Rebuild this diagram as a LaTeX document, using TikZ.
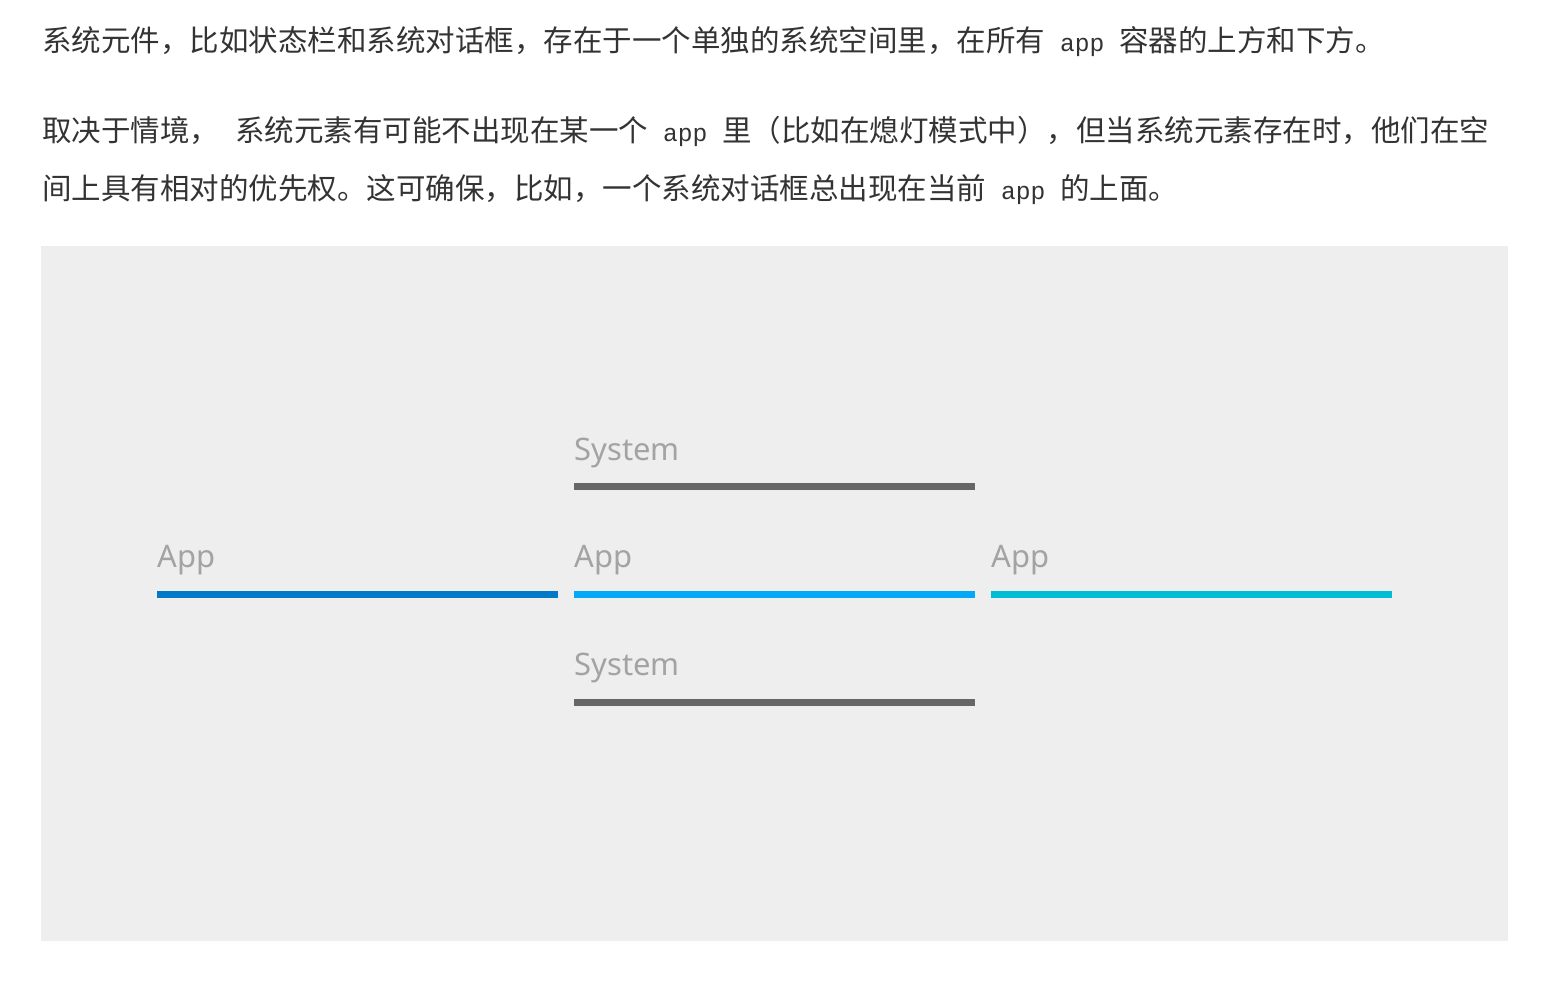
\documentclass[tikz,border=0pt]{standalone}
\usepackage{fontspec}
\newfontfamily\cjk{Noto Sans CJK SC}
\newfontfamily\tagfont{Noto Sans}
\newfontfamily\appfont{Liberation Mono}
\definecolor{textgray}{HTML}{333333}
\definecolor{taggray}{HTML}{A3A3A3}
\definecolor{panelgray}{HTML}{EEEEEE}
\definecolor{sysgray}{HTML}{666666}
\definecolor{appdark}{HTML}{0279C6}
\definecolor{appblue}{HTML}{03A9F4}
\definecolor{appcyan}{HTML}{00BCD4}
\newcommand{\appword}{{\appfont\fontsize{12.3pt}{15pt}\selectfont\ app\ }}

\begin{document}
\begin{tikzpicture}[x=0.5pt, y=-0.5pt,
	para/.style={anchor=base west, inner sep=0pt, text=textgray, font=\cjk\fontsize{14.75pt}{18pt}\selectfont},
	tag/.style={anchor=base west, inner sep=0pt, text=taggray, font=\tagfont\fontsize{15.5pt}{18pt}\selectfont},
	bar/.style={line width=3.5pt}]
	\useasboundingbox (0,0) rectangle (1548,986);
	
	% 1. 正文三行
	\node[para] (line1) at (42,51) {系统元件，比如状态栏和系统对话框，存在于一个单独的系统空间里，在所有\appword 容器的上方和下方。};
	\node[para] (line2) at (42,141) {取决于情境，\hspace{8pt}系统元素有可能不出现在某一个\appword 里（比如在熄灯模式中），但当系统元素存在时，他们在空};
	\node[para] (line3) at (42,199) {间上具有相对的优先权。这可确保，比如，一个系统对话框总出现在当前\appword 的上面。};
	
	% 2. 灰色面板
	\fill[panelgray] (41,246) rectangle (1508,941);
	
	% 3. 上下两层 System
	\node[tag] (sysTop) at (574,460) {System};
	\draw[bar, sysgray] (574,486) -- ++(401,0);
	\node[tag] (sysBot) at (574,675) {System};
	\draw[bar, sysgray] (574,702) -- ++(401,0);
	
	% 4. 中间三个 App
	\foreach \n/\x/\c in {appA/157/appdark, appB/574/appblue, appC/991/appcyan} {
		\node[tag] (\n) at (\x,567) {App};
		\draw[bar, \c] (\x,594) -- ++(401,0);
	}
\end{tikzpicture}
\end{document}
